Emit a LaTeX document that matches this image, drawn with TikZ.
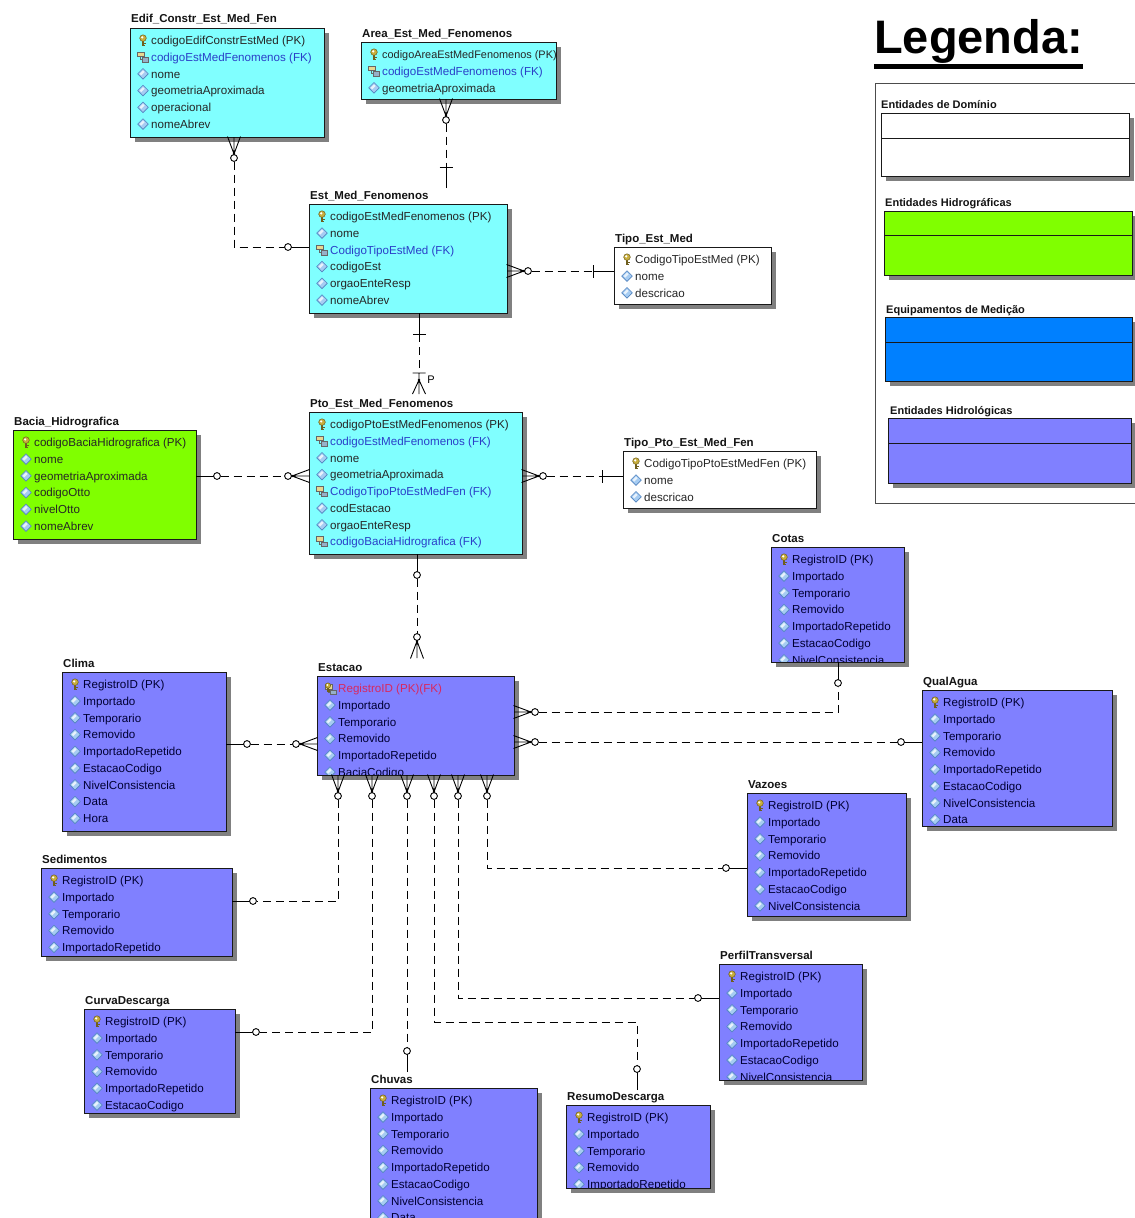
\documentclass[tikz,border=0pt]{standalone}
\usepackage{fontspec}
\setmainfont{Liberation Sans}
\usetikzlibrary{calc,shadows}

\definecolor{cyanE}{HTML}{80FFFF}
\definecolor{greenE}{HTML}{80FF00}
\definecolor{blueE}{HTML}{0080FF}
\definecolor{purpE}{HTML}{8080FF}
\definecolor{fkblue}{HTML}{2A3FC8}
\definecolor{pkfk}{HTML}{D8285F}
\definecolor{keygold}{HTML}{C8AE3C}
\definecolor{keydark}{HTML}{6E5E1E}
\definecolor{diamfill}{HTML}{A6CCF2}
\definecolor{diamdraw}{HTML}{5284C0}
\colorlet{rowtext}{black!88}

\tikzset{
  ebox/.style={draw=black!90, line width=1pt, inner sep=0pt, outer sep=0pt, anchor=north west,
     drop shadow={shadow xshift=5pt, shadow yshift=-5pt, fill=black!50, opacity=1}},
  etitle/.style={font=\bfseries\fontsize{11.5}{13}\selectfont, inner sep=0pt, anchor=base west, text=black!92},
  erow/.style={font=\fontsize{11.6}{14}\selectfont, inner sep=0pt, anchor=base west},
  row-k/.style={text=rowtext}, row-a/.style={text=rowtext},
  row-K/.style={text=rowtext, font=\fontsize{10.9}{14}\selectfont},
  row-f/.style={text=fkblue}, row-p/.style={text=pkfk},
  rel/.style={draw=black, line width=.9pt, dash pattern=on 8pt off 5pt},
  conn/.style={draw=black, line width=.9pt, solid},
  lgtitle/.style={font=\bfseries\fontsize{11}{13}\selectfont, inner sep=0pt, anchor=base west, text=black!92},
  pics/zm/.style={code={
    \draw[conn] (-0.5,-6.5) -- (17,0) (0,0) -- (17,0) (-0.5,6.5) -- (17,0);
    \fill (17,0) circle (1.3);
    \draw[conn, fill=white] (21,0) circle (3.4);
  }},
  pics/zo/.style={code={
    \draw[conn] (0,0) -- (17.6,0);
    \draw[conn, fill=white] (21,0) circle (3.4);
  }},
  pics/one/.style={code={
    \draw[conn] (0,0) -- (21,0) (21,-6.5) -- (21,6.5);
  }},
  pics/om/.style={code={
    \draw[conn] (0,-6.5) -- (14,0) (0,0) -- (21,0) (0,6.5) -- (14,0) (21,-6.5) -- (21,6.5);
    \fill (14,0) circle (1.3);
  }},
}

% icons
\newcommand\iconk{%
  \draw[keydark, line width=1.8pt] (0,0) -- (0,5.8);
  \draw[keydark, line width=1.3pt] (0,3.4) -- (3,3.4) (0,5.4) -- (2.4,5.4);
  \fill[keygold, draw=keydark, line width=.5pt] (0,-2.2) circle (3.3);
  \fill[white] (-0.8,-2.9) circle (1.2);
}
\newcommand\iconK{\iconk}
\newcommand\iconf{%
  \draw[fill={rgb,255:red,232;green,216;blue,144}, draw=black!60, line width=.6pt] (-5.5,-5) rectangle (1,-0.5);
  \draw[fill={rgb,255:red,150;green,176;blue,200}, draw=black!60, line width=.6pt] (-1,0.5) rectangle (5.5,5);
  \draw[black!60, line width=.6pt] (-3,-0.5) -- (-3,2.7) -- (-1,2.7);
}
\newcommand\icona{%
  \draw[fill=diamfill, draw=diamdraw, line width=.6pt] (-5.3,0) -- (0,-5.3) -- (5.3,0) -- (0,5.3) -- cycle;
  \fill[white, opacity=.75] (-3.4,0) -- (0,-3.4) -- (1.6,-1.8) -- (-1.8,1.6) -- cycle;
}
\newcommand\iconp{%
  \begin{scope}[shift={(1,1)}]\iconf\end{scope}
  \begin{scope}[shift={(-2,-1)}, scale=.8]\iconk\end{scope}
}

% entity: name, x, y, width, height, fill, title, rows
\newcommand\ent[8]{%
  \node[etitle] (#1-t) at ($(#2,#3)+(1,-5)$) {#7};
  \node[ebox, fill=#6, minimum width=#4pt, minimum height=#5pt] (#1) at (#2,#3) {};
  \begin{scope}
    \clip (#1.north west) rectangle (#1.south east);
    \foreach \ty/\tx [count=\i] in {#8}{%
      \begin{scope}[shift={($(#1.north west)+(13,{12.3+16.75*(\i-1)})$)}]
        \csname icon\ty\endcsname
      \end{scope}
      \node[erow,row-\ty] (#1-\i) at ($(#1.north west)+(21,{16.6+16.75*(\i-1)})$) {\tx};
    }
  \end{scope}
  \draw[line width=1pt, draw=black!90] (#1.north west) rectangle (#1.south east);
}

\begin{document}
\begin{tikzpicture}[x=1pt, y=-1pt]
\useasboundingbox (0,0) rectangle (1135,1218);
\fill[white] (0,0) rectangle (1135,1218);

% ---------------- Legend ----------------
\node[font=\bfseries\fontsize{47}{50}\selectfont, anchor=base west, inner sep=0pt] (legtitle) at (874,53) {Legenda:};
\fill ([yshift=-11pt]legtitle.base west) rectangle ([yshift=-16pt]legtitle.base east);
\node[draw=black!70, line width=.8pt, minimum width=275pt, minimum height=420pt, anchor=north west, inner sep=0pt] (legframe) at (875,83) {};

\node[lgtitle] (lg1-t) at (881,108) {Entidades de Domínio};
\node[ebox, fill=white, minimum width=248pt, minimum height=63pt] (lg1) at (881,113) {};
\draw[black!90, line width=1pt] ([yshift=-25pt]lg1.north west) -- ([yshift=-25pt]lg1.north east);

\node[lgtitle] (lg2-t) at (885,206) {Entidades Hidrográficas};
\node[ebox, fill=greenE, minimum width=248pt, minimum height=64pt] (lg2) at (884,211) {};
\draw[black!90, line width=1pt] ([yshift=-24pt]lg2.north west) -- ([yshift=-24pt]lg2.north east);

\node[lgtitle] (lg3-t) at (886,313) {Equipamentos de Medição};
\node[ebox, fill=blueE, minimum width=247pt, minimum height=64pt] (lg3) at (885,317) {};
\draw[black!90, line width=1pt] ([yshift=-25pt]lg3.north west) -- ([yshift=-25pt]lg3.north east);

\node[lgtitle] (lg4-t) at (890,414) {Entidades Hidrológicas};
\node[ebox, fill=purpE, minimum width=243pt, minimum height=65pt] (lg4) at (888,418) {};
\draw[black!90, line width=1pt] ([yshift=-25pt]lg4.north west) -- ([yshift=-25pt]lg4.north east);

% ---------------- Entities ----------------
\colorlet{rowtext}{black!85}
\ent{edif}{130}{28}{194}{109}{cyanE}{Edif\_Constr\_Est\_Med\_Fen}{k/codigoEdifConstrEstMed (PK), f/codigoEstMedFenomenos (FK), a/nome, a/geometriaAproximada, a/operacional, a/nomeAbrev}
\ent{area}{361}{42}{195}{57}{cyanE}{Area\_Est\_Med\_Fenomenos}{K/codigoAreaEstMedFenomenos (PK), f/codigoEstMedFenomenos (FK), a/geometriaAproximada}
\ent{estmed}{309}{204}{198}{109}{cyanE}{Est\_Med\_Fenomenos}{k/codigoEstMedFenomenos (PK), a/nome, f/CodigoTipoEstMed (FK), a/codigoEst, a/orgaoEnteResp, a/nomeAbrev}
\ent{tipoest}{614}{247}{157}{57}{white}{Tipo\_Est\_Med}{k/CodigoTipoEstMed (PK), a/nome, a/descricao}
\ent{pto}{309}{412}{213}{142}{cyanE}{Pto\_Est\_Med\_Fenomenos}{k/codigoPtoEstMedFenomenos (PK), f/codigoEstMedFenomenos (FK), a/nome, a/geometriaAproximada, f/CodigoTipoPtoEstMedFen (FK), a/codEstacao, a/orgaoEnteResp, f/codigoBaciaHidrografica (FK)}
\ent{bacia}{13}{430}{183}{109}{greenE}{Bacia\_Hidrografica}{k/codigoBaciaHidrografica (PK), a/nome, a/geometriaAproximada, a/codigoOtto, a/nivelOtto, a/nomeAbrev}
\ent{tipopto}{623}{451}{193}{57}{white}{Tipo\_Pto\_Est\_Med\_Fen}{k/CodigoTipoPtoEstMedFen (PK), a/nome, a/descricao}

\colorlet{rowtext}{black!80!blue}
\ent{estacao}{317}{676}{197}{99}{purpE}{Estacao}{p/RegistroID (PK)(FK), a/Importado, a/Temporario, a/Removido, a/ImportadoRepetido, a/BaciaCodigo}
\ent{clima}{62}{672}{164}{159}{purpE}{Clima}{k/RegistroID (PK), a/Importado, a/Temporario, a/Removido, a/ImportadoRepetido, a/EstacaoCodigo, a/NivelConsistencia, a/Data, a/Hora, a/}
\ent{sedim}{41}{868}{191}{88}{purpE}{Sedimentos}{k/RegistroID (PK), a/Importado, a/Temporario, a/Removido, a/ImportadoRepetido, a/}
\ent{curva}{84}{1009}{151}{104}{purpE}{CurvaDescarga}{k/RegistroID (PK), a/Importado, a/Temporario, a/Removido, a/ImportadoRepetido, a/EstacaoCodigo}
\ent{chuvas}{370}{1088}{167}{140}{purpE}{Chuvas}{k/RegistroID (PK), a/Importado, a/Temporario, a/Removido, a/ImportadoRepetido, a/EstacaoCodigo, a/NivelConsistencia, a/Data}
\ent{resumo}{566}{1105}{144}{83}{purpE}{ResumoDescarga}{k/RegistroID (PK), a/Importado, a/Temporario, a/Removido, a/ImportadoRepetido}
\ent{cotas}{771}{547}{133}{115}{purpE}{Cotas}{k/RegistroID (PK), a/Importado, a/Temporario, a/Removido, a/ImportadoRepetido, a/EstacaoCodigo, a/NivelConsistencia}
\ent{qualagua}{922}{690}{190}{136}{purpE}{QualAgua}{k/RegistroID (PK), a/Importado, a/Temporario, a/Removido, a/ImportadoRepetido, a/EstacaoCodigo, a/NivelConsistencia, a/Data}
\ent{vazoes}{747}{793}{159}{123}{purpE}{Vazoes}{k/RegistroID (PK), a/Importado, a/Temporario, a/Removido, a/ImportadoRepetido, a/EstacaoCodigo, a/NivelConsistencia, a/}
\ent{perfil}{719}{964}{143}{116}{purpE}{PerfilTransversal}{k/RegistroID (PK), a/Importado, a/Temporario, a/Removido, a/ImportadoRepetido, a/EstacaoCodigo, a/NivelConsistencia}

% ---------------- Connectors ----------------
% Edif -> Est_Med
\coordinate (c1a) at ([xshift=104pt]edif.south west);
\coordinate (c1b) at ([yshift=-43pt]estmed.north west);
\draw[rel, shorten <=24.5pt, shorten >=24.5pt] (c1a) |- (c1b);
\pic[rotate=-90] at (c1a) {zm};
\pic[rotate=180] at (c1b) {zo};

% Area -> Est_Med
\coordinate (c2a) at ([xshift=85pt]area.south west);
\coordinate (c2b) at ([xshift=137pt, yshift=16pt]estmed.north west);
\draw[rel, shorten <=24.5pt, shorten >=21pt] (c2a) -- (c2b);
\pic[rotate=-90] at (c2a) {zm};
\pic[rotate=90] at (c2b) {one};

% Est_Med -> Tipo_Est_Med
\coordinate (c3a) at ([yshift=-67pt]estmed.north east);
\coordinate (c3b) at ([yshift=-24pt]tipoest.north west);
\draw[rel, shorten <=24.5pt, shorten >=21pt] (c3a) -- (c3b);
\pic at (c3a) {zm};
\pic[rotate=180] at (c3b) {one};

% Est_Med -> Pto
\coordinate (c4a) at ([xshift=110pt]estmed.south west);
\coordinate (c4b) at ([xshift=110pt, yshift=18pt]pto.north west);
\draw[rel, shorten <=21pt, shorten >=21pt] (c4a) -- (c4b);
\pic[rotate=-90] at (c4a) {one};
\pic[rotate=90] at (c4b) {om};
\node[font=\fontsize{11}{12}\selectfont, inner sep=0pt] (plab) at ([xshift=12pt, yshift=14pt]c4b) {P};

% Bacia -> Pto
\coordinate (c5a) at ([yshift=-46pt]bacia.north east);
\coordinate (c5b) at ([yshift=-64pt]pto.north west);
\draw[rel, shorten <=24.5pt, shorten >=24.5pt] (c5a) -- (c5b);
\pic at (c5a) {zo};
\pic[rotate=180] at (c5b) {zm};

% Pto -> Tipo_Pto
\coordinate (c6a) at ([yshift=-64pt]pto.north east);
\coordinate (c6b) at ([yshift=-25pt]tipopto.north west);
\draw[rel, shorten <=24.5pt, shorten >=21pt] (c6a) -- (c6b);
\pic at (c6a) {zm};
\pic[rotate=180] at (c6b) {one};

% Pto -> Estacao
\coordinate (c7a) at ([xshift=108pt]pto.south west);
\coordinate (c7b) at ([xshift=100pt, yshift=18pt]estacao.north west);
\draw[rel, shorten <=24.5pt, shorten >=24.5pt] (c7a) -- (c7b);
\pic[rotate=-90] at (c7a) {zo};
\pic[rotate=90] at (c7b) {zm};

% Estacao -> Cotas
\coordinate (c8a) at ([yshift=-36pt]estacao.north east);
\coordinate (c8b) at ([xshift=67pt]cotas.south west);
\draw[rel, shorten <=24.5pt, shorten >=24.5pt] (c8a) -| (c8b);
\pic at (c8a) {zm};
\pic[rotate=-90] at (c8b) {zo};

% Estacao -> QualAgua
\coordinate (c9a) at ([yshift=-66pt]estacao.north east);
\coordinate (c9b) at ([yshift=-52pt]qualagua.north west);
\draw[rel, shorten <=24.5pt, shorten >=24.5pt] (c9a) -- (c9b);
\pic at (c9a) {zm};
\pic[rotate=180] at (c9b) {zo};

% Clima -> Estacao
\coordinate (c10a) at ([yshift=-72pt]clima.north east);
\coordinate (c10b) at ([yshift=-68pt]estacao.north west);
\draw[rel, shorten <=24.5pt, shorten >=24.5pt] (c10a) -- (c10b);
\pic at (c10a) {zo};
\pic[rotate=180] at (c10b) {zm};

% Estacao -> Sedimentos
\coordinate (c11a) at ([xshift=21pt]estacao.south west);
\coordinate (c11b) at ([yshift=-33pt]sedim.north east);
\draw[rel, shorten <=24.5pt, shorten >=24.5pt] (c11a) |- (c11b);
\pic[rotate=-90] at (c11a) {zm};
\pic at (c11b) {zo};

% Estacao -> CurvaDescarga
\coordinate (c12a) at ([xshift=55pt]estacao.south west);
\coordinate (c12b) at ([yshift=-23pt]curva.north east);
\draw[rel, shorten <=24.5pt, shorten >=24.5pt] (c12a) |- (c12b);
\pic[rotate=-90] at (c12a) {zm};
\pic at (c12b) {zo};

% Estacao -> Chuvas
\coordinate (c13a) at ([xshift=90pt]estacao.south west);
\coordinate (c13b) at ([xshift=37pt, yshift=16pt]chuvas.north west);
\draw[rel, shorten <=24.5pt, shorten >=24.5pt] (c13a) -- (c13b);
\pic[rotate=-90] at (c13a) {zm};
\pic[rotate=90] at (c13b) {zo};

% Estacao -> ResumoDescarga
\coordinate (c14a) at ([xshift=117pt]estacao.south west);
\coordinate (c14b) at ([xshift=71pt, yshift=15pt]resumo.north west);
\draw[rel, shorten <=24.5pt, shorten >=24.5pt] (c14a) -- ++(0,247) -| (c14b);
\pic[rotate=-90] at (c14a) {zm};
\pic[rotate=90] at (c14b) {zo};

% Estacao -> PerfilTransversal
\coordinate (c15a) at ([xshift=141pt]estacao.south west);
\coordinate (c15b) at ([yshift=-34pt]perfil.north west);
\draw[rel, shorten <=24.5pt, shorten >=24.5pt] (c15a) |- (c15b);
\pic[rotate=-90] at (c15a) {zm};
\pic[rotate=180] at (c15b) {zo};

% Estacao -> Vazoes
\coordinate (c16a) at ([xshift=170pt]estacao.south west);
\coordinate (c16b) at ([yshift=-75pt]vazoes.north west);
\draw[rel, shorten <=24.5pt, shorten >=24.5pt] (c16a) |- (c16b);
\pic[rotate=-90] at (c16a) {zm};
\pic[rotate=180] at (c16b) {zo};

\end{tikzpicture}
\end{document}
